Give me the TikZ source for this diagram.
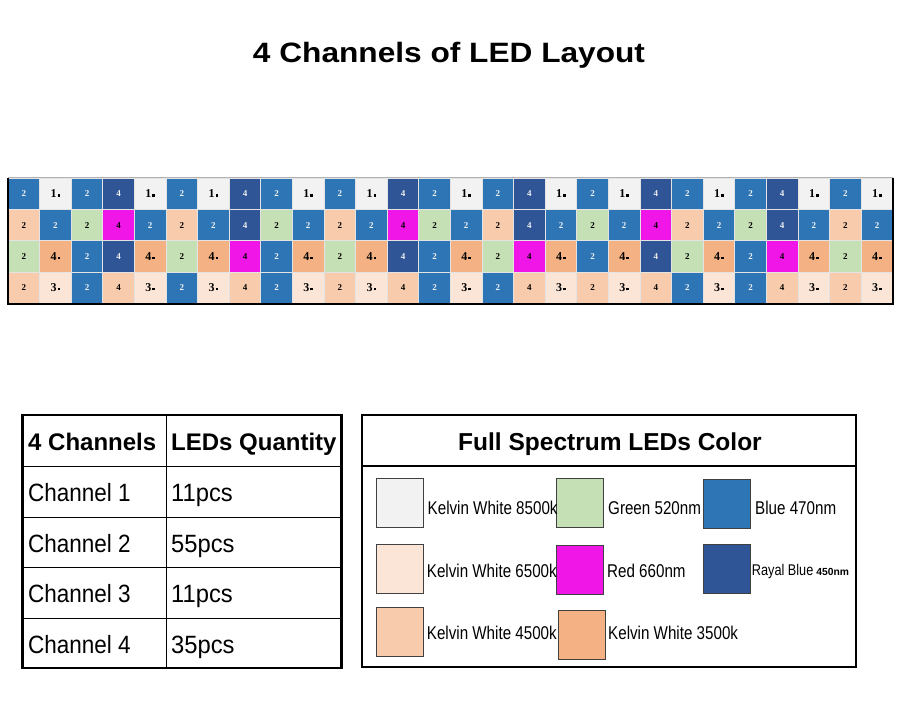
\documentclass[tikz,border=0pt]{standalone}
\usepackage{fontspec}
\usepackage{graphicx}
\setmainfont{Liberation Sans}
\newfontfamily\ledfont{Liberation Serif}
\definecolor{ledwhite}{HTML}{F2F2F2}
\definecolor{ledlight}{HTML}{FBE5D6}
\definecolor{ledpeach}{HTML}{F8CBAD}
\definecolor{ledorange}{HTML}{F4B183}
\definecolor{ledgreen}{HTML}{C5E0B4}
\definecolor{ledblue}{HTML}{2E75B6}
\definecolor{lednavy}{HTML}{2F5597}
\definecolor{ledred}{HTML}{F016E8}
\newcommand{\cond}[2][0.82]{\scalebox{#1}[1]{#2}}
\tikzset{
  led/.style={draw=white!78!gray, line width=0.9pt, minimum width=31.6pt, minimum height=31.25pt,
    inner sep=0pt, font=\ledfont\bfseries\fontsize{9}{9}\selectfont},
  bigled/.style={font=\ledfont\bfseries\fontsize{12}{12}\selectfont,
    execute at end node={\kern0.08em\rule[0.1em]{0.22em}{0.22em}}},
  ledbl/.style={fill=ledblue, text=white!88!gray},
  lednv/.style={fill=lednavy, text=white!88!gray},
  ledgr/.style={fill=ledgreen},
  ledpk/.style={fill=ledpeach},
  ledmg/.style={fill=ledred},
  ledwh/.style={fill=ledwhite, bigled},
  ledlt/.style={fill=ledlight, bigled},
  ledor/.style={fill=ledorange, bigled},
  swatch/.style={draw=black!75, line width=0.8pt, minimum width=47pt, minimum height=49pt, inner sep=0pt},
  legtext/.style={anchor=base west, inner sep=0pt, font=\fontsize{18.5}{18.5}\selectfont},
  tabtext/.style={anchor=base west, inner sep=0pt, font=\fontsize{25}{25}\selectfont},
  tabhead/.style={anchor=base west, inner sep=0pt, font=\bfseries\fontsize{24}{24}\selectfont}
}
\begin{document}
\begin{tikzpicture}[x=1pt, y=-1pt]
    \useasboundingbox[fill=white] (0,0) rectangle (900,714);
    \node[anchor=base, inner sep=0pt, font=\bfseries\fontsize{28}{28}\selectfont] (title) at (449,63)
        {\scalebox{1.13}[1]{4 Channels of LED Layout}};
    \foreach \rowlist [count=\r] in {
        {bl/2,wh/1,bl/2,nv/4,wh/1,bl/2,wh/1,nv/4,bl/2,wh/1,bl/2,wh/1,nv/4,bl/2,wh/1,bl/2,nv/4,wh/1,bl/2,wh/1,nv/4,bl/2,wh/1,bl/2,nv/4,wh/1,bl/2,wh/1},
        {pk/2,bl/2,gr/2,mg/4,bl/2,pk/2,bl/2,nv/4,gr/2,bl/2,pk/2,bl/2,mg/4,gr/2,bl/2,pk/2,nv/4,bl/2,gr/2,bl/2,mg/4,pk/2,bl/2,gr/2,nv/4,bl/2,pk/2,bl/2},
        {gr/2,or/4,bl/2,nv/4,or/4,gr/2,or/4,mg/4,bl/2,or/4,gr/2,or/4,nv/4,bl/2,or/4,gr/2,mg/4,or/4,bl/2,or/4,nv/4,gr/2,or/4,bl/2,mg/4,or/4,gr/2,or/4},
        {pk/2,lt/3,bl/2,pk/4,lt/3,bl/2,lt/3,pk/4,bl/2,lt/3,pk/2,lt/3,pk/4,bl/2,lt/3,bl/2,pk/4,lt/3,pk/2,lt/3,pk/4,bl/2,lt/3,bl/2,pk/4,lt/3,pk/2,lt/3}}
    {
        \foreach \c/\d [count=\i from 0] in \rowlist
            \node[led, led\c] (led-\r-\i) at ({23.8+31.6*\i},{193.9+31.25*(\r-1)}) {\d};
    }
    \draw[gray!60, line width=0.8pt] (led-1-0.north west) -- (led-1-27.north east);
    \draw[line width=2pt] (led-1-0.north west) -- (led-4-0.south west) -- (led-4-27.south east) -- (led-1-27.north east);

    \draw[line width=2.2pt] (22.5,415) rectangle (341.5,668);
    \draw[line width=1.3pt] (166.7,415) -- (166.7,668);
    \foreach \y in {466.7,517.3,567.7,618.3}
        \draw[line width=1.3pt] (22.5,\y) -- (341.5,\y);
    \node[tabhead] (head1) at (28,450.7) {4 Channels};
    \node[tabhead] (head2) at (171,450.7) {LEDs Quantity};
    \foreach \n/\q [count=\k] in {1/11pcs,2/55pcs,3/11pcs,4/35pcs} {
        \node[tabtext] (chan\k) at (28,{501.7+50.5*(\k-1)}) {\cond[0.9]{Channel \n}};
        \node[tabtext] (qty\k) at (171,{501.7+50.5*(\k-1)}) {\cond[0.95]{\q}};
    }

    \draw[line width=2.2pt] (361.7,415) rectangle (856,666.7);
    \draw[line width=1.5pt] (361.7,466) -- (856,466);
    \node[anchor=base, inner sep=0pt, font=\bfseries\fontsize{24.5}{24.5}\selectfont] (legtitle) at (610,450)
        {Full Spectrum LEDs Color};
    \node[swatch, fill=ledwhite] (sw1) at (399.5,503) {};
    \node[swatch, fill=ledgreen] (sw2) at (580.2,503) {};
    \node[swatch, fill=ledblue] (sw3) at (727.3,504) {};
    \node[swatch, fill=ledlight] (sw4) at (399.8,568.5) {};
    \node[swatch, fill=ledred] (sw5) at (580.3,569.5) {};
    \node[swatch, fill=lednavy] (sw6) at (726.8,569) {};
    \node[swatch, fill=ledpeach] (sw7) at (399.5,632.3) {};
    \node[swatch, fill=ledorange] (sw8) at (581.7,634.8) {};
    \node[legtext] (lab1) at (427.5,514.3) {\cond{Kelvin White 8500k}};
    \node[legtext] (lab2) at (608,514.3) {\cond{Green 520nm}};
    \node[legtext] (lab3) at (755,514.3) {\cond{Blue 470nm}};
    \node[legtext] (lab4) at (426.7,577) {\cond{Kelvin White 6500k}};
    \node[legtext] (lab5) at (607,577.5) {\cond{Red 660nm}};
    \node[legtext] (lab6) at (751.7,575.7) {\cond{{\fontsize{15.5}{15.5}\selectfont Rayal Blue}}\,{\bfseries\fontsize{10.3}{10.3}\selectfont 450nm}};
    \node[legtext] (lab7) at (426.7,639.3) {\cond{Kelvin White 4500k}};
    \node[legtext] (lab8) at (608,639.3) {\cond{Kelvin White 3500k}};
\end{tikzpicture}
\end{document}
